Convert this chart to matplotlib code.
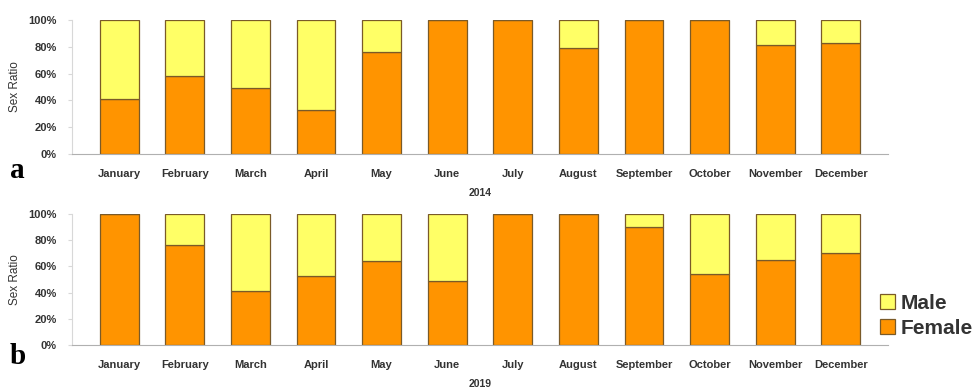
import numpy as np
import matplotlib.pyplot as plt
from matplotlib.ticker import PercentFormatter

plt.rcParams["font.family"] = ["Liberation Sans", "DejaVu Sans"]

months = ["January", "February", "March", "April", "May", "June", "July",
          "August", "September", "October", "November", "December"]

# share of females per month (percent); males make up the rest
female_2014 = [41, 58, 49, 33, 76, 100, 100, 79, 100, 100, 81, 83]
female_2019 = [100, 76, 41, 53, 64, 49, 100, 100, 90, 54, 65, 70]

orange = "#FF9400"
yellow = "#FFFF66"
edge = "#7a5a28"
txt = "#333333"

fig = plt.figure(figsize=(9.74, 3.9), dpi=100)
ax_a = fig.add_axes([0.0739, 0.6051, 0.8378, 0.3436])
ax_b = fig.add_axes([0.0739, 0.1154, 0.8378, 0.3359])

x = np.arange(len(months))
for ax, female, year, tag, ty in [(ax_a, female_2014, "2014", "a", -0.12),
                                  (ax_b, female_2019, "2019", "b", -0.09)]:
    female = np.array(female, dtype=float)
    male = 100 - female
    ax.bar(x, female, width=0.59, color=orange, edgecolor=edge, linewidth=0.9,
           label="Female", zorder=2)
    ax.bar(x, male, bottom=female, width=0.59, color=yellow, edgecolor=edge,
           linewidth=0.9, label="Male", zorder=2)
    ax.set_xlim(-0.72, len(months) - 0.28)
    ax.set_ylim(0, 100)
    ax.set_yticks(np.arange(0, 101, 20))
    ax.yaxis.set_major_formatter(PercentFormatter(decimals=0))
    ax.set_xticks(x)
    ax.set_xticklabels(months)
    for s in ["top", "right"]:
        ax.spines[s].set_visible(False)
    ax.spines["left"].set_color("#d8d8d8")
    ax.spines["bottom"].set_color("#b0b0b0")
    ax.tick_params(axis="x", length=0, pad=11, labelsize=8, labelcolor=txt)
    ax.tick_params(axis="y", length=3, color="#d8d8d8", pad=8, labelsize=8,
                   labelcolor=txt)
    for lab in ax.get_xticklabels() + ax.get_yticklabels():
        lab.set_fontweight("bold")
    ax.set_ylabel("Sex Ratio", fontsize=8.5, color=txt, labelpad=5)
    ax.set_xlabel(year, fontsize=7.5, fontweight="bold", color=txt, labelpad=6)
    ax.text(-0.067, ty, tag, transform=ax.transAxes, fontsize=21,
            fontweight="bold", family="Liberation Serif", ha="center",
            va="center")

handles, labels = ax_b.get_legend_handles_labels()
fig.legend(handles[::-1], labels[::-1], loc="center left",
           bbox_to_anchor=(0.904, 0.19), frameon=False,
           handlelength=0.7, handleheight=0.7, handletextpad=0.25,
           labelspacing=0.3, borderpad=0, borderaxespad=0,
           prop={"size": 15, "weight": "bold"}, labelcolor=txt)

fig.savefig("out.png", dpi=100)
